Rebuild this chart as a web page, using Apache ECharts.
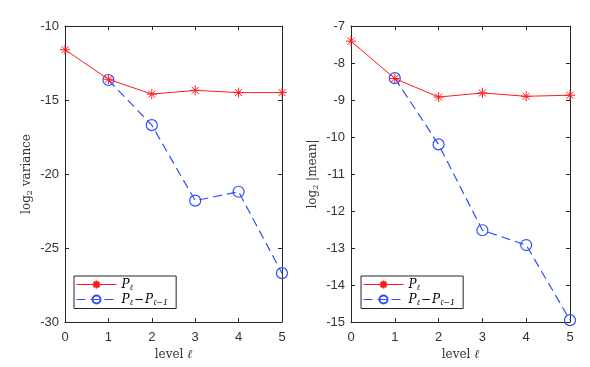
<!DOCTYPE html>
<html>
<head>
<meta charset="utf-8">
<script src="https://cdn.jsdelivr.net/npm/echarts@6/dist/echarts.min.js"></script>
<style>
  html, body { margin: 0; padding: 0; background: #fff; }
  #chart { width: 590px; height: 367px; }
</style>
</head>
<body>
<div id="chart"></div>
<script>
// levels
const levels = [0, 1, 2, 3, 4, 5]
const diffLevels = [1, 2, 3, 4, 5]
// left panel: log2 variance
const varP = [-11.6, -13.6, -14.6, -14.35, -14.5, -14.5]
const varDiff = [-13.65, -16.7, -21.8, -21.2, -26.7]
// right panel: log2 |mean|
const meanP = [-7.41, -8.42, -8.92, -8.81, -8.9, -8.87]
const meanDiff = [-8.41, -10.2, -12.52, -12.92, -14.95]

const pairs = (xs, ys) => xs.map((x, i) => [x, ys[i]])

const axisCol = '#262626'
const labelCol = '#333'
const starPath = 'path://M0,-6L0,6M-6,0L6,0M-4.2,-4.2L4.2,4.2M-4.2,4.2L4.2,-4.2'
const redCol = '#ff1a1a'
const blueCol = '#2f4dff'

const serif = '"DejaVu Serif", "Liberation Serif", serif'
const sans = '"Liberation Sans", Arial, sans-serif'

const richText = {
  p: { fontFamily: serif, fontStyle: 'italic', fontSize: 12, color: '#000' },
  s: { fontFamily: serif, fontStyle: 'italic', fontSize: 8, color: '#000', padding: [6, 0, 0, 0] },
  m: { fontFamily: serif, fontSize: 12, color: '#000', padding: [0, 1, 0, 1] }
}

const legendFmt = (name) => {
  if (name === 'P') return '{p|P}{s|ℓ}'
  return '{p|P}{s|ℓ}{m|−}{p|P}{s|ℓ−1}'
}

const makeX = (gi, pos) => ({
  type: 'value',
  gridIndex: gi,
  position: pos,
  min: 0,
  max: 5,
  interval: 1,
  name: pos === 'bottom' ? '{t|level }{i|ℓ}' : '',
  nameLocation: 'middle',
  nameGap: 25,
  nameTextStyle: {
    rich: {
      t: { fontFamily: serif, fontSize: 12, color: labelCol },
      i: { fontFamily: serif, fontStyle: 'italic', fontSize: 12, color: labelCol }
    }
  },
  axisLine: { show: true, onZero: false, lineStyle: { color: axisCol, width: 1 } },
  axisTick: { show: true, inside: true, length: 4, lineStyle: { color: axisCol } },
  axisLabel: { show: pos === 'bottom', color: labelCol, fontFamily: sans, fontSize: 13, margin: 9 },
  splitLine: { show: false }
})

const makeY = (gi, pos, min, max, interval, name) => ({
  type: 'value',
  gridIndex: gi,
  position: pos,
  min: min,
  max: max,
  interval: interval,
  name: pos === 'left' ? name : '',
  nameLocation: 'middle',
  nameRotate: 90,
  nameGap: 31,
  nameTextStyle: {
    rich: {
      t: { fontFamily: serif, fontSize: 12, color: labelCol },
      s: { fontFamily: serif, fontSize: 8, color: labelCol, padding: [6, 0, 0, 0] }
    }
  },
  axisLine: { show: true, onZero: false, lineStyle: { color: axisCol, width: 1 } },
  axisTick: { show: true, inside: true, length: 4, lineStyle: { color: axisCol } },
  axisLabel: { show: pos === 'left', color: labelCol, fontFamily: sans, fontSize: 13, margin: 6 },
  splitLine: { show: false }
})

const pSeries = (gi, data) => ({
  name: 'P',
  type: 'line',
  xAxisIndex: gi * 2,
  yAxisIndex: gi * 2,
  data: data,
  symbol: starPath,
  symbolSize: 10,
  z: 3,
  itemStyle: { color: 'none', borderColor: redCol, borderWidth: 1 },
  lineStyle: { color: redCol, width: 1 },
  animation: false
})

const dSeries = (gi, data) => ({
  name: 'D',
  type: 'line',
  xAxisIndex: gi * 2,
  yAxisIndex: gi * 2,
  data: data,
  symbol: 'circle',
  symbolSize: 11,
  showAllSymbol: true,
  z: 2,
  itemStyle: { color: 'rgba(255,255,255,0)', borderColor: blueCol, borderWidth: 1.2 },
  lineStyle: { color: blueCol, width: 1.2, type: [9, 5] },
  animation: false
})

const legendBox = (left) => ({
  data: ['P', 'D'],
  orient: 'vertical',
  left: left,
  top: 276,
  width: 106,
  itemWidth: 40,
  itemHeight: 10,
  itemGap: 2,
  padding: [2, 8, 2, 2],
  backgroundColor: '#fff',
  borderColor: '#262626',
  borderWidth: 1,
  borderRadius: 0,
  selectedMode: false,
  formatter: legendFmt,
  lineStyle: { width: 1 },
  textStyle: { rich: richText }
})

const chart = echarts.init(document.getElementById('chart'))
const option = {
  backgroundColor: '#fff',
  animation: false,
  grid: [
    { left: 65, top: 26, width: 217, height: 296 },
    { left: 351, top: 26, width: 219, height: 296 }
  ],
  xAxis: [makeX(0, 'bottom'), makeX(0, 'top'), makeX(1, 'bottom'), makeX(1, 'top')],
  yAxis: [
    makeY(0, 'left', -30, -10, 5, '{t|log}{s|2}{t| variance}'),
    makeY(0, 'right', -30, -10, 5, ''),
    makeY(1, 'left', -15, -7, 1, '{t|log}{s|2}{t| |mean|}'),
    makeY(1, 'right', -15, -7, 1, '')
  ],
  legend: [legendBox(74), legendBox(361)],
  series: [
    pSeries(0, pairs(levels, varP)),
    dSeries(0, pairs(diffLevels, varDiff)),
    pSeries(1, pairs(levels, meanP)),
    dSeries(1, pairs(diffLevels, meanDiff))
  ]
}
chart.setOption(option)
window.addEventListener('resize', () => {
  chart.resize()
})
</script>
</body>
</html>
